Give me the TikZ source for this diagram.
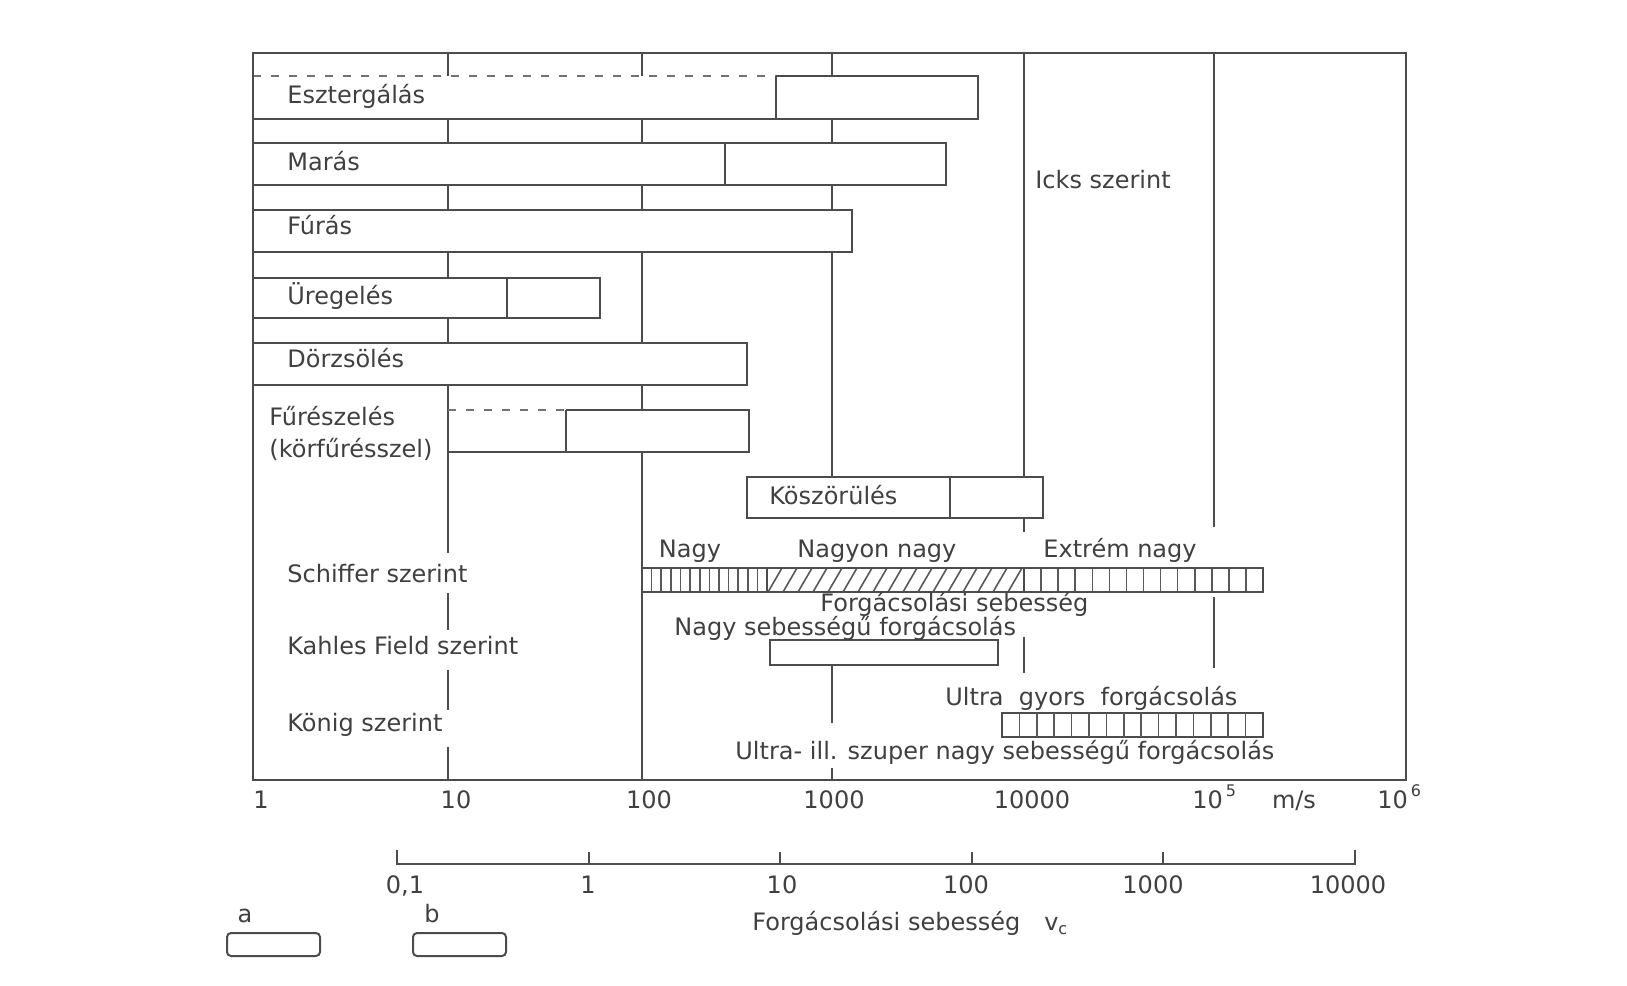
\documentclass[tikz,border=0pt]{standalone}
\usepackage{fontspec}
\setmainfont{DejaVu Sans}
\newcommand{\pwr}[1]{10\hspace{1.5pt}\raisebox{6pt}{\fontsize{8}{8}\selectfont #1}}
\begin{document}
\begin{tikzpicture}[x=0.5pt,y=-0.5pt,
  ln/.style={draw=black!70,line width=1pt},
  dl/.style={draw=black!55,line width=1pt,dash pattern=on 4pt off 5pt},
  hl/.style={draw=black!65,line width=0.8pt},
  barfill/.style={fill=white},
  lbl/.style={text=black!75,inner sep=0pt,font=\fontsize{12}{13}\selectfont,text height=8.7pt,text depth=2.8pt},
  legbox/.style={draw=black!70,line width=1pt,rounded corners=2pt,fill=white},
]
\useasboundingbox[fill=white] (0,0) rectangle (1627,985);

% grid lines
\draw[ln] (448,53) -- (448,553) (448,593) -- (448,630) (448,670) -- (448,710) (448,747) -- (448,780);
\draw[ln] (642,53) -- (642,780);
\draw[ln] (832,53) -- (832,477) (832,665) -- (832,723) (832,768) -- (832,780);
\draw[ln] (1024,53) -- (1024,532) (1024,637) -- (1024,673);
\draw[ln] (1214,53) -- (1214,527) (1214,597) -- (1214,668);

% Esztergalas
\fill[barfill] (253,76) rectangle (978,119);
\draw[ln] (776,76) -- (978,76) -- (978,119) -- (253,119);
\draw[dl] (253,76) -- (776,76);
\draw[ln] (776,76) -- (776,119);
% Maras
\draw[ln,barfill] (253,143) rectangle (946,185);
\draw[ln] (725,143) -- (725,185);
% Furas
\draw[ln,barfill] (253,210) rectangle (852,252);
% Uregeles
\draw[ln,barfill] (253,278) rectangle (600,318);
\draw[ln] (507,278) -- (507,318);
% Dorzsoles
\draw[ln,barfill] (253,343) rectangle (747,385);
% Fureszeles
\fill[barfill] (448,410) rectangle (749,452);
\draw[ln] (566,410) -- (749,410) -- (749,452) -- (448,452) -- (448,410);
\draw[dl] (448,410) -- (566,410);
\draw[ln] (566,410) -- (566,452);
% Koszorules
\draw[ln,barfill] (747,477) rectangle (1043,518);
\draw[ln] (950,477) -- (950,518);
% Schiffer bar
\draw[ln,barfill] (642,568) rectangle (1263,592);
\begin{scope}
  \clip (642,568) rectangle (1263,592);
  \foreach \i in {1,...,12} \draw[hl] ({642+\i*125/13},568) -- ++(0,24);
  \foreach \i in {1,...,13} \draw[hl] ({1024+\i*239/14},568) -- ++(0,24);
\end{scope}
\begin{scope}
  \clip (767,568) rectangle (1024,592);
  \foreach \i in {0,...,18} \draw[hl] ({767+\i*15-14},592) -- ++(14,-24);
\end{scope}
\draw[ln] (767,568) -- (767,592) (1024,568) -- (1024,592);
\draw[ln] (642,568) rectangle (1263,592);
% Kahles bar
\draw[ln,barfill] (770,640) rectangle (998,665);
% Konig bar
\draw[ln,barfill] (1002,713) rectangle (1263,737);
\foreach \i in {1,...,14} \draw[hl] ({1002+\i*261/15},713) -- ++(0,24);

% frame
\draw[ln] (253,53) rectangle (1406,780);

% row labels
\node[lbl,anchor=west] (eszt) at (287,98) {Esztergálás};
\node[lbl,anchor=west] (maras) at (287,165) {Marás};
\node[lbl,anchor=west] (furas) at (287,229) {Fúrás};
\node[lbl,anchor=west] (ureg) at (287,299) {Üregelés};
\node[lbl,anchor=west] (dorz) at (287,362) {Dörzsölés};
\node[lbl,anchor=west] (fur1) at (269,420) {Fűrészelés};
\node[lbl,anchor=west] (fur2) at (269,452) {(körfűrésszel)};
\node[lbl,anchor=west] (kosz) at (769,499) {Köszörülés};
\node[lbl,anchor=west] (schiffer) at (287,577) {Schiffer szerint};
\node[lbl,anchor=west] (kahles) at (287,649) {Kahles Field szerint};
\node[lbl,anchor=west] (konig) at (287,726) {König szerint};
\node[lbl,anchor=west] (icks) at (1035,183) {Icks szerint};

% bar annotations
\node[lbl] (nagy) at (690,552) {Nagy};
\node[lbl,anchor=west] (nagyon) at (797,552) {Nagyon nagy};
\node[lbl,anchor=west] (extrem) at (1043,552) {Extrém nagy};
\node[lbl,anchor=west] (forgseb) at (820,606) {Forgácsolási sebesség};
\node[lbl,anchor=west] (nagyseb) at (674,630) {Nagy sebességű forgácsolás};
\node[lbl,anchor=west] (ultragy) at (945,700) {Ultra~ gyors~ forgácsolás};
\node[lbl,anchor=west] (ultrasz) at (735,754) {Ultra- ill. szuper nagy sebességű forgácsolás};

% main axis labels
\node[lbl] (a1) at (261,803) {1};
\node[lbl] (a10) at (456,803) {10};
\node[lbl] (a100) at (649,803) {100};
\node[lbl] (a1000) at (834,803) {1000};
\node[lbl] (a10000) at (1032,803) {10000};
\node[lbl,anchor=west] (a5) at (1192,803) {\pwr{5}};
\node[lbl] (ams) at (1294,803) {m/s};
\node[lbl,anchor=west] (a6) at (1377,803) {\pwr{6}};

% second axis
\draw[ln] (397,850) -- (397,864) -- (1355,864) -- (1355,850);
\foreach \i in {1,...,4} \draw[ln] ({397+\i*191.6},852) -- ({397+\i*191.6},864);
\node[lbl] (b01) at (405,888) {0,1};
\node[lbl] (b1) at (588,888) {1};
\node[lbl] (b10) at (782,888) {10};
\node[lbl] (b100) at (966,888) {100};
\node[lbl] (b1000) at (1153,888) {1000};
\node[lbl] (b10000) at (1348,888) {10000};
\node[lbl,anchor=west] (vc) at (752,925) {Forgácsolási sebesség\quad v\textsubscript{c}};

% legend
\node[lbl] (la) at (245,917) {a};
\draw[legbox] (227,933) rectangle (320,956);
\node[lbl] (lb) at (432,917) {b};
\draw[legbox] (413,933) rectangle (506,956);
\end{tikzpicture}
\end{document}
